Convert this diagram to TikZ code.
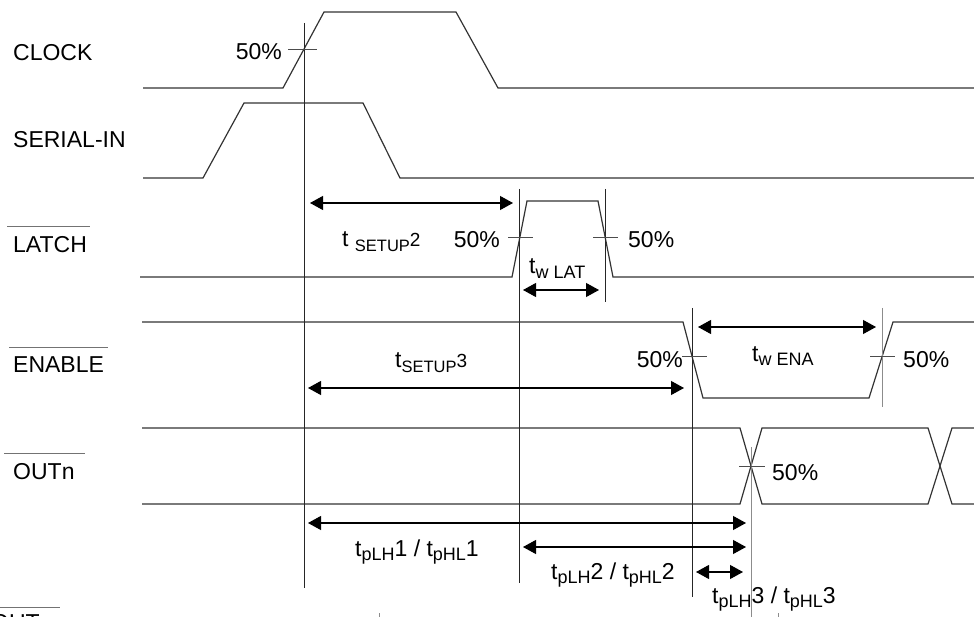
\documentclass[tikz,border=0pt]{standalone}
\usepackage{fontspec}
\setmainfont{Liberation Sans}
\usetikzlibrary{arrows.meta}
\newcommand{\subf}[1]{\raisebox{-4.5pt}{\fontsize{18}{20}\selectfont #1}}
\newcommand{\subs}[1]{\raisebox{-5pt}{\fontsize{16.5}{18}\selectfont #1}}
\newcommand{\digf}[1]{{\fontsize{19}{20}\selectfont #1}}
\begin{document}
\begin{tikzpicture}[x=1pt,y=-1pt,
  wave/.style={line width=1.2pt, black!80, line join=miter},
  vline/.style={line width=1pt, black!85},
  gvline/.style={line width=1pt, black!45},
  tickln/.style={line width=0.9pt, black!70},
  ovl/.style={line width=1pt, black!55},
  dimarr/.style={line width=1.1pt, {Triangle[length=13pt,width=14pt]}-{Triangle[length=13pt,width=14pt]}},
  lbl/.style={font=\fontsize{23}{25}\selectfont, inner sep=0pt, anchor=base west},
  pct/.style={font=\fontsize{23}{25}\selectfont, inner sep=0pt},
  tlbl/.style={font=\fontsize{23}{25}\selectfont, inner sep=0pt, anchor=base west}]
\useasboundingbox (0,0) rectangle (974,617);
\clip (0,0) rectangle (974,617);

% signal names
\node[lbl] (clk) at (13,61) {CLOCK};
\node[lbl] (sin) at (13,148) {SERIAL-IN};
\node[lbl] (lat) at (13,253) {LATCH};
\node[lbl] (ena) at (13,373) {ENABLE};
\node[lbl] (outn) at (13,479) {OUTn};
\node[lbl] (outb) at (-9,630) {OUT};
\draw[ovl] (7,227) -- (90,227);
\draw[ovl] (9,348) -- (108,348);
\draw[ovl] (4,453) -- (85,453);
\draw[ovl] (0,607) -- (60,607);

% waveforms
\draw[wave] (143,88) -- (283,88) -- (324,12) -- (456,12) -- (498,88) -- (974,88);
\draw[wave] (143,178) -- (203,178) -- (244,103) -- (363,103) -- (400,178) -- (974,178);
\draw[wave] (140,277) -- (512,277) -- (527,201) -- (598,201) -- (613,277) -- (974,277);
\draw[wave] (142,322) -- (683,322) -- (703,398) -- (869,398) -- (893,322) -- (974,322);
\draw[wave] (142,428) -- (740,428) -- (762,504) -- (928,504) -- (952,428) -- (974,428);
\draw[wave] (142,504) -- (740,504) -- (762,428) -- (928,428) -- (952,504) -- (974,504);

% reference verticals
\draw[vline] (304,23) -- (304,588);
\draw[vline] (519,189) -- (519,583);
\draw[vline] (605,189) -- (605,302);
\draw[vline] (692,308) -- (692,597);
\draw[gvline] (882,308) -- (882,407);
\draw[gvline] (751,447) -- (751,617);
\draw[gvline] (379,613) -- (379,617);
\draw[gvline] (778,613) -- (778,617);

% 50% ticks
\draw[tickln] (288,49) -- (317,49);
\draw[tickln] (508,237) -- (533,237);
\draw[tickln] (593,237) -- (618,237);
\draw[tickln] (682,356) -- (707,356);
\draw[tickln] (870,356) -- (895,356);
\draw[tickln] (739,466) -- (765,466);

% 50% labels
\node[pct, anchor=base east] (p1) at (282,60) {50\%};
\node[pct, anchor=base east] (p2) at (500,248) {50\%};
\node[pct, anchor=base west] (p3) at (628,248) {50\%};
\node[pct, anchor=base east] (p4) at (683,367) {50\%};
\node[pct, anchor=base west] (p5) at (903,367) {50\%};
\node[pct, anchor=base west] (p6) at (772,480) {50\%};

% dimension arrows
\coordinate (a1l) at (310,203); \coordinate (a1r) at (513,203);
\coordinate (a2l) at (308,388); \coordinate (a2r) at (684,388);
\coordinate (a3l) at (523,290); \coordinate (a3r) at (599,290);
\coordinate (a4l) at (698,327); \coordinate (a4r) at (876,327);
\coordinate (a5l) at (308,523); \coordinate (a5r) at (746,523);
\coordinate (a6l) at (523,547); \coordinate (a6r) at (746,547);
\coordinate (a7l) at (696,572); \coordinate (a7r) at (743,572);
\draw[dimarr] (a1l) -- (a1r);
\draw[dimarr] (a2l) -- (a2r);
\draw[dimarr] (a3l) -- (a3r);
\draw[dimarr] (a4l) -- (a4r);
\draw[dimarr] (a5l) -- (a5r);
\draw[dimarr] (a6l) -- (a6r);
\draw[dimarr] (a7l) -- (a7r);

% timing labels
\node[tlbl] (tsu2) at (342,247) {t\ \subs{SETUP}\digf{2}};
\node[tlbl] (tsu3) at (395,367) {t\subs{SETUP}\digf{3}};
\node[tlbl] (twl) at (529,274) {t\subf{w LAT}};
\node[tlbl] (twe) at (752,361) {t\subf{w ENA}};
\node[tlbl] (tp1) at (355,556) {t\subf{pLH}1 / t\subf{pHL}1};
\node[tlbl] (tp2) at (551,579) {t\subf{pLH}2 / t\subf{pHL}2};
\node[tlbl] (tp3) at (712,603) {t\subf{pLH}3 / t\subf{pHL}3};
\end{tikzpicture}
\end{document}
